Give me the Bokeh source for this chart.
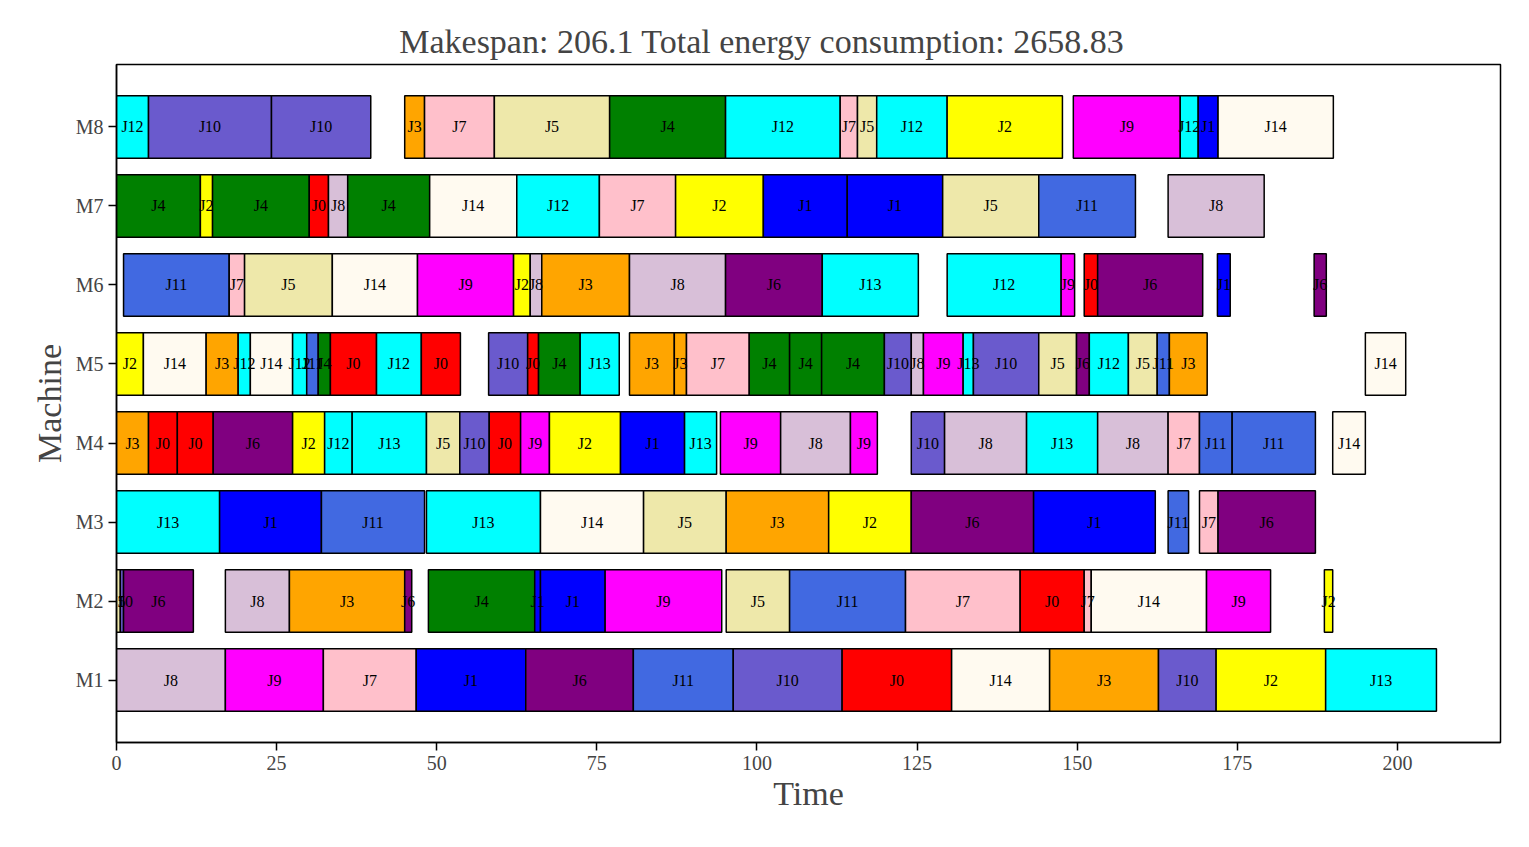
from bokeh.plotting import figure
from bokeh.models import ColumnDataSource, FixedTicker, Range1d
from bokeh.embed import file_html
from bokeh.resources import INLINE
from bokeh.core.properties import value

machines = ["M1", "M2", "M3", "M4", "M5", "M6", "M7", "M8"]

m1_jobs = ["J8","J9","J7","J1","J6","J11","J10","J0","J14","J3","J10","J2","J13"]
m1_start = [0,17,32.3,46.8,63.9,80.7,96.3,113.3,130.4,145.7,162.7,171.7,188.8]
m1_end = [17,32.3,46.8,63.9,80.7,96.3,113.3,130.4,145.7,162.7,171.7,188.8,206.1]

m2_jobs = ["J5","J10","J6","J8","J3","J6","J4","J1","J1","J9","J5","J11","J7","J0","J7","J14","J9","J2"]
m2_start = [0,0.6,1.1,17,27,45,48.7,65.3,66.2,76.3,95.2,105.1,123.2,141.1,151.1,152.2,170.2,188.6]
m2_end = [0.6,1.1,12,27,45,46.1,65.3,66.2,76.3,94.5,105.1,123.2,141.1,151.1,152.2,170.2,180.2,189.9]

m3_jobs = ["J13","J1","J11","J13","J14","J5","J3","J2","J6","J1","J11","J7","J6"]
m3_start = [0,16.1,32,48.4,66.2,82.3,95.2,111.2,124.1,143.2,164.2,169.1,172]
m3_end = [16.1,32,48.1,66.2,82.3,95.2,111.2,124.1,143.2,162.2,167.4,172,187.2]

m4_jobs = ["J3","J0","J0","J6","J2","J12","J13","J5","J10","J0","J9","J2","J1","J13",
           "J9","J8","J9","J10","J8","J13","J8","J7","J11","J11","J14"]
m4_start = [0,5,9.5,15.1,27.5,32.5,36.8,48.4,53.6,58.2,63.1,67.6,78.7,88.7,
            94.3,103.7,114.6,124.1,129.3,142.1,153.2,164.2,169.1,174.2,189.9]
m4_end = [5,9.5,15.1,27.5,32.5,36.8,48.4,53.6,58.2,63.1,67.6,78.7,88.7,93.7,
          103.7,114.6,118.8,129.3,142.1,153.2,164.2,169.1,174.2,187.2,195]

m5_jobs = ["J2","J14","J3","J12","J14","J12","J11","J4","J0","J12","J0",
           "J10","J0","J4","J13",
           "J3","J3","J7","J4","J4","J4","J10","J8","J9","J13","J10","J5","J6","J12","J5","J11","J3",
           "J14"]
m5_start = [0,4.2,14,19,20.9,27.5,29.7,31.5,33.4,40.6,47.6,
            58.1,64.2,65.9,72.4,
            80.1,87.1,89,98.8,105.1,110.1,119.9,124.1,126,132.2,133.8,144,149.9,151.9,158,162.5,164.4,
            195]
m5_end = [4.2,14,19,20.9,27.5,29.7,31.5,33.4,40.6,47.6,53.7,
          64.2,65.9,72.4,78.5,
          87.1,89,98.8,105.1,110.1,119.9,124.1,126,132.2,133.8,144,149.9,151.9,158,162.5,164.4,170.3,
          201.3]

m6_jobs = ["J11","J7","J5","J14","J9","J2","J8","J3","J8","J6","J13",
           "J12","J9","J0","J6","J1","J6"]
m6_start = [1.1,17.6,20,33.7,47,62,64.6,66.4,80.1,95.1,110.2,
            129.7,147.5,151.1,153.2,171.9,187]
m6_end = [17.6,20,33.7,47,62,64.6,66.4,80.1,95.1,110.2,125.2,
          147.5,149.6,153.2,169.6,173.9,188.9]

m7_jobs = ["J4","J2","J4","J0","J8","J4","J14","J12","J7","J2","J1","J1","J5","J11","J8"]
m7_start = [0,13.1,15,30.1,33.1,36.1,48.9,62.5,75.4,87.3,101,114.1,129,144,164.2]
m7_end = [13.1,15,30.1,33.1,36.1,48.9,62.5,75.4,87.3,101,114.1,129,144,159.1,179.2]

m8_jobs = ["J12","J10","J10","J3","J7","J5","J4","J12","J7","J5","J12","J2","J9","J12","J1","J14"]
m8_start = [0,5,24.2,45,48.1,59,77,95.1,113,115.7,118.7,129.7,149.4,166.1,168.9,172]
m8_end = [5,24.2,39.7,48.1,59,77,95.1,113,115.7,118.7,129.7,147.7,166.1,168.9,172,190]

job_colors = {
    "J0": "#FF0000", "J1": "#0000FF", "J2": "#FFFF00", "J3": "#FFA500",
    "J4": "#008000", "J5": "#EEE8AA", "J6": "#800080", "J7": "#FFC0CB",
    "J8": "#D8BFD8", "J9": "#FF00FF", "J10": "#6A5ACD", "J11": "#4169E1",
    "J12": "#00FFFF", "J13": "#00FFFF", "J14": "#FFFAF0",
}

rows = [(m1_jobs, m1_start, m1_end), (m2_jobs, m2_start, m2_end), (m3_jobs, m3_start, m3_end),
        (m4_jobs, m4_start, m4_end), (m5_jobs, m5_start, m5_end), (m6_jobs, m6_start, m6_end),
        (m7_jobs, m7_start, m7_end), (m8_jobs, m8_start, m8_end)]

data = dict(left=[], right=[], y=[], job=[], color=[], mid=[])
for i, (jobs, s, e) in enumerate(rows):
    for j, a, b in zip(jobs, s, e):
        data["left"].append(a)
        data["right"].append(b)
        data["y"].append(i + 1)
        data["job"].append(j)
        data["color"].append(job_colors[j])
        data["mid"].append((a + b) / 2)
src = ColumnDataSource(data)

FONT = "Liberation Serif"
p = figure(width=1515, height=830, output_backend="svg", toolbar_location=None,
           x_range=Range1d(0, 216.1), y_range=Range1d(0.21, 8.79),
           min_border_left=116, min_border_right=15, min_border_top=64, min_border_bottom=88,
           title="Makespan: 206.1            Total energy consumption: 2658.83")
p.title.align = "center"
p.title.text_font = FONT
p.title.text_font_size = "34px"
p.title.text_font_style = "normal"
p.title.offset = 0

p.hbar(y="y", left="left", right="right", height=0.79, fill_color="color",
       line_color="black", line_width=1.5, source=src)
p.text(x="mid", y="y", text="job", text_align="center", text_baseline="middle",
       text_font=value(FONT), text_font_size="16px", text_color="black", source=src)

p.xgrid.visible = False
p.ygrid.visible = False
p.outline_line_color = "black"
p.outline_line_width = 1.5

p.xaxis.ticker = FixedTicker(ticks=[0, 25, 50, 75, 100, 125, 150, 175, 200])
p.yaxis.ticker = FixedTicker(ticks=list(range(1, 9)))
p.yaxis.major_label_overrides = {i + 1: m for i, m in enumerate(machines)}
for ax in (p.xaxis, p.yaxis):
    ax.minor_tick_line_color = None
    ax.major_label_text_font = FONT
    ax.major_label_text_font_size = "20px"
    ax.axis_label_text_font = FONT
    ax.axis_label_text_font_size = "34px"
    ax.axis_label_text_font_style = "normal"
    ax.axis_line_width = 1.5
    ax.major_tick_line_width = 1.5
    ax.major_tick_out = 8
    ax.major_tick_in = 0
p.xaxis.axis_label = "Time"
p.yaxis.axis_label = "Machine"
p.xaxis.axis_label_standoff = 2

open("out.html", "w").write(file_html(p, INLINE))
